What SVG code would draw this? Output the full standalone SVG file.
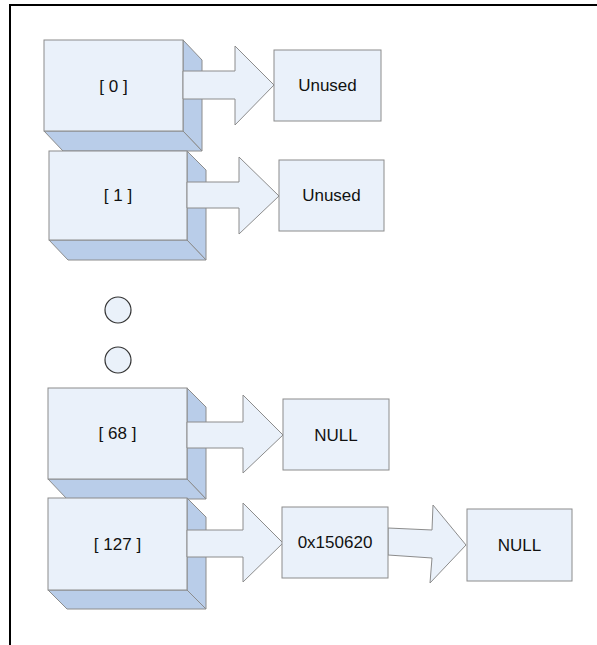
<svg xmlns="http://www.w3.org/2000/svg" width="597" height="645" viewBox="0 0 597 645">
<style>
.face{fill:#EAF1FA;stroke:#8C8C8C;stroke-width:1}
.side{fill:#B9CDE9;stroke:#8C8C8C;stroke-width:1}
.arrow{fill:#EAF1FA;stroke:#8C8C8C;stroke-width:1}
.box{fill:#EAF1FA;stroke:#8C8C8C;stroke-width:1}
.dot{fill:#EAF1FA;stroke:#333333;stroke-width:1.2}
text{font-family:"Liberation Sans",Arial,sans-serif;font-size:17px;fill:#111111;text-anchor:middle}
</style>
<rect x="0" y="0" width="597" height="645" fill="#ffffff"/>
<g id="frame">
<line x1="9" y1="5" x2="597" y2="5" stroke="#000" stroke-width="2"/>
<line x1="10" y1="4" x2="10" y2="645" stroke="#000" stroke-width="2"/>
</g>
<g id="slot0">
<polygon class="side" points="183,40 202,60 202,151 183,131"/>
<polygon class="side" points="44,131 183,131 202,151 63,151"/>
<rect class="face" x="44" y="40" width="139" height="91"/>
<text x="113.5" y="92">[ 0 ]</text>
</g>
<g id="slot1">
<polygon class="side" points="187,151 206,170 206,260 187,240"/>
<polygon class="side" points="49,240 187,240 206,260 68,260"/>
<rect class="face" x="49" y="151" width="138" height="89"/>
<text x="118" y="201">[ 1 ]</text>
</g>
<g id="dots">
<circle class="dot" cx="118" cy="310" r="13"/>
<circle class="dot" cx="118" cy="360" r="13"/>
</g>
<g id="slot68">
<polygon class="side" points="187,388 206,407 206,499 187,479"/>
<polygon class="side" points="48,479 187,479 206,499 67,499"/>
<rect class="face" x="48" y="388" width="139" height="91"/>
<text x="117.5" y="439">[ 68 ]</text>
</g>
<g id="slot127">
<polygon class="side" points="187,498 206,517 206,609 187,590"/>
<polygon class="side" points="48,590 187,590 206,609 67,609"/>
<rect class="face" x="48" y="498" width="139" height="92"/>
<text x="117.5" y="550">[ 127 ]</text>
</g>
<g id="connectors">
<polygon class="arrow" points="183,71 235,71 235,46 274,85 235,125 235,99 183,99"/>
<polygon class="arrow" points="187,182 239,182 239,157 279,196 239,234 239,208 187,208"/>
<polygon class="arrow" points="187,422 243,422 243,395 283,435 243,473 243,448 187,448"/>
<polygon class="arrow" points="187,530 243,530 243,503 283,543 243,582 243,557 187,557"/>
<polygon class="arrow" points="388,528 432,530 433,505 466,545 430,583 432,558 388,555"/>
</g>
<g id="unused0">
<rect class="box" x="274" y="50" width="107" height="71"/>
<text x="327.5" y="91">Unused</text>
</g>
<g id="unused1">
<rect class="box" x="279" y="160" width="105" height="71"/>
<text x="331.5" y="201">Unused</text>
</g>
<g id="null68">
<rect class="box" x="283" y="399" width="106" height="71"/>
<text x="336" y="441">NULL</text>
</g>
<g id="node150620">
<rect class="box" x="282" y="507" width="106" height="71"/>
<text x="335" y="548">0x150620</text>
</g>
<g id="null127">
<rect class="box" x="467" y="509" width="105" height="72"/>
<text x="519.5" y="551">NULL</text>
</g>
</svg>
